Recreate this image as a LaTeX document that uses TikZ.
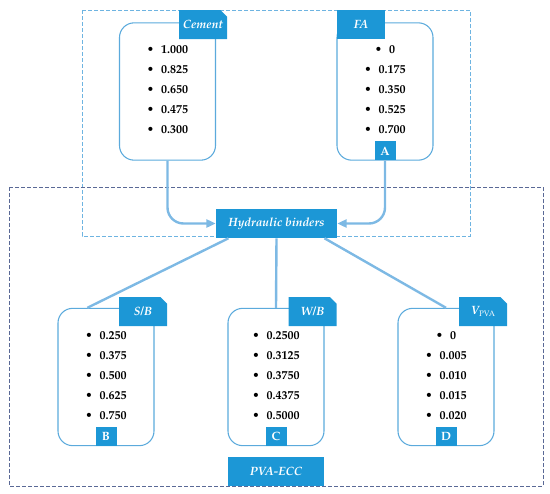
\documentclass[tikz,border=0pt]{standalone}
\usepackage[T1]{fontenc}
\usepackage{mathpazo}
\usepackage{tikz}
\usetikzlibrary{arrows.meta, shapes.misc}

\definecolor{boxblue}{RGB}{28,151,214}
\definecolor{cardline}{RGB}{91,170,220}
\definecolor{linkblue}{RGB}{125,185,228}
\definecolor{topdash}{RGB}{110,180,225}
\definecolor{outerdash}{RGB}{90,105,150}

\begin{document}
\begin{tikzpicture}[x=0.75pt,y=-0.75pt,
  card/.style={draw=cardline, line width=0.8pt, rounded corners=11pt, minimum width=72pt, minimum height=103pt, inner sep=0pt},
  tab/.style={chamfered rectangle, chamfered rectangle corners=north east, chamfered rectangle xsep=2.5pt, chamfered rectangle ysep=2.5pt, fill=boxblue, text=white, font=\fontsize{9}{11}\selectfont\bfseries\itshape, minimum width=36pt, minimum height=21.75pt, inner sep=0pt},
  flat/.style={fill=boxblue, text=white, font=\fontsize{9}{11}\selectfont\bfseries\itshape, minimum height=21.75pt, inner sep=0pt},
  lab/.style={fill=boxblue, text=white, font=\fontsize{9}{11}\selectfont\bfseries, minimum width=15.75pt, minimum height=14.25pt, inner sep=0pt, anchor=south},
  item/.style={font=\fontsize{9}{11}\selectfont\bfseries, inner sep=0pt},
  link/.style={draw=linkblue, line width=1.8pt}]
\useasboundingbox (0,0) rectangle (550,493);
% dashed frames
\draw[topdash, line width=0.6pt, dash pattern=on 3pt off 1.5pt] (82,10) rectangle (470,236);
\draw[outerdash, line width=0.6pt, dash pattern=on 3pt off 1.5pt] (9,187) rectangle (543,486);
% cards
\node[card] (cem) at (167.5,91.5) {};
\node[card] (fa) at (385,91.5) {};
\node[card] (sb) at (106,377) {};
\node[card] (wb) at (276,377) {};
\node[card] (vp) at (446,377) {};
% values
\foreach \v [count=\i] in {1.000,0.825,0.650,0.475,0.300}
  \node[item] (cemv\i) at (167.5,30+20*\i) {\textbullet\hspace{0.6em}\v};
\foreach \v [count=\i] in {0,0.175,0.350,0.525,0.700}
  \node[item] (fav\i) at (385,30+20*\i) {\textbullet\hspace{0.6em}\v};
\foreach \v [count=\i] in {0.250,0.375,0.500,0.625,0.750}
  \node[item] (sbv\i) at (106,316+20*\i) {\textbullet\hspace{0.6em}\v};
\foreach \v [count=\i] in {0.2500,0.3125,0.3750,0.4375,0.5000}
  \node[item] (wbv\i) at (276,316+20*\i) {\textbullet\hspace{0.6em}\v};
\foreach \v [count=\i] in {0,0.005,0.010,0.015,0.020}
  \node[item] (vpv\i) at (446,316+20*\i) {\textbullet\hspace{0.6em}\v};
% letters
\node[lab] (la) at (fa.south) {A};
\node[lab] (lb) at (sb.south) {B};
\node[lab] (lc) at (wb.south) {C};
\node[lab] (ld) at (vp.south) {D};
% central boxes
\node[flat, minimum width=90.75pt] (hyd) at (276.5,223.5) {Hydraulic binders};
\node[flat, minimum width=72pt] (ecc) at (276,471.5) {PVA-ECC};
% connectors
\draw[link, -{Triangle[length=7pt,width=6pt]}, rounded corners=12pt] (cem.south) |- (hyd.west);
\draw[link, -{Triangle[length=7pt,width=6pt]}, rounded corners=12pt] (la.south) |- (hyd.east);
\draw[link] ([xshift=-36pt]hyd.south) -- ([xshift=-14pt]sb.north);
\draw[link] (hyd.south) -- (wb.north);
\draw[link] ([xshift=36pt]hyd.south) -- (vp.north);
% tabs
\node[tab] (tcem) at (203,24.5) {Cement};
\node[flat, minimum width=36pt] (tfa) at (361,24.5) {FA};
\node[tab] (tsb) at (143,311.5) {S/B};
\node[tab] (twb) at (312.5,311.5) {W/B};
\node[tab] (tvp) at (483,311.5) {V\raisebox{-0.2ex}{\fontsize{6}{7}\selectfont\mdseries\upshape PVA}};
\end{tikzpicture}
\end{document}
